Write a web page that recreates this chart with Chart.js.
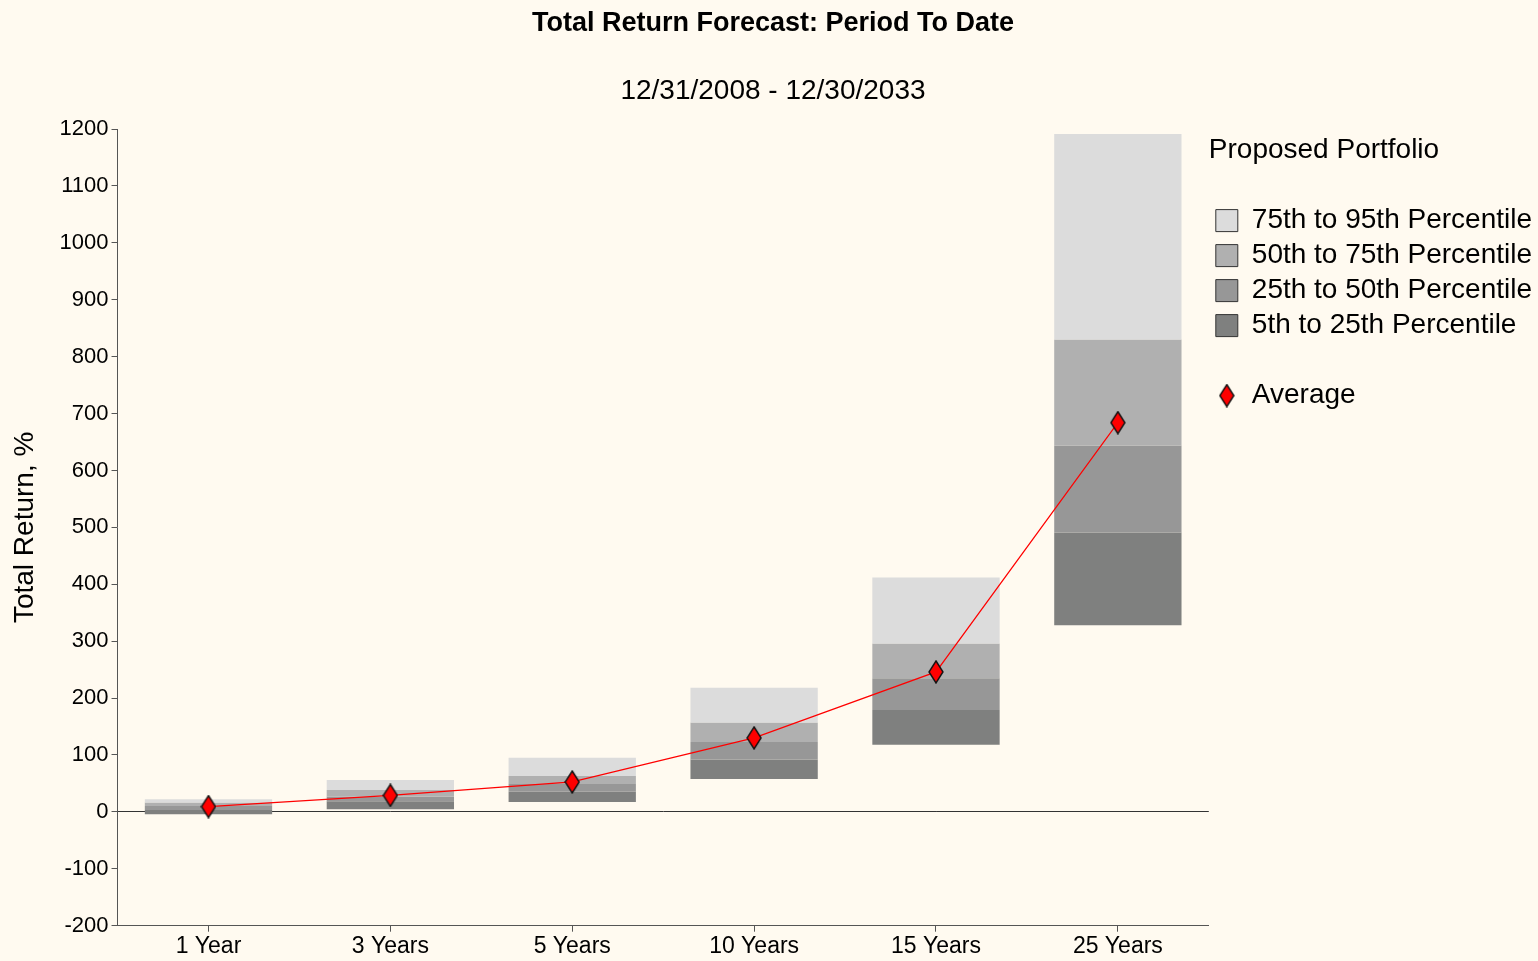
<!DOCTYPE html>
<html>
<head>
<meta charset="utf-8">
<script src="https://cdn.jsdelivr.net/npm/chart.js@4.4.1/dist/chart.umd.min.js"></script>
<style>
  html,body{margin:0;padding:0;background:#fffaf0;}
  #wrap{width:1538px;height:961px;}
</style>
</head>
<body>
<div id="wrap"><canvas id="c" width="1538" height="961"></canvas></div>
<script>
const labels = ["1 Year","3 Years","5 Years","10 Years","15 Years","25 Years"];
const p5  = [-4, 4.7, 17.5, 58, 118, 328];
const p25 = [3.5, 18.8, 35.6, 92, 179, 491];
const p50 = [10.5, 27, 49, 123, 235, 644];
const p75 = [16.3, 38.6, 63, 157, 296, 830];
const p95 = [22.3, 56, 95, 218, 412, 1191];
const avg = [9.3, 29, 52.6, 130, 246, 684];

const FONT = "'Liberation Sans', Arial, sans-serif";
const $ = s => document.querySelector(s);

// tall red diamond used for the average markers
function diamond(w,h){
  const cv=document.createElement("canvas");
  cv.width=w; cv.height=h;
  const g=cv.getContext("2d");
  g.beginPath();
  g.moveTo(w/2,1); g.lineTo(w-1,h/2); g.lineTo(w/2,h-1); g.lineTo(1,h/2); g.closePath();
  g.fillStyle="#ff0000"; g.fill();
  g.lineWidth=1.4; g.strokeStyle="#111"; g.stroke();
  return cv;
}
const dia = diamond(16,24);

const band = (lo,hi) => lo.map((v,i)=>[v,hi[i]]);
const bar = (label,data,color)=>({
  type:"bar", label, data, backgroundColor:color, borderWidth:0,
  grouped:false, barPercentage:0.7, categoryPercentage:1, order:1
});

const bgPlugin = {
  id:"bg",
  beforeInit(c){
    // legend sits a bit tighter against the plot than chart.js would put it
    const lg=c.legend;
    if(lg){ const fit=lg.fit; lg.fit=function(){ fit.call(this); this.width-=4; }; }
  },
  beforeDraw(c){
    const g=c.ctx; g.save(); g.fillStyle="#fffaf0"; g.fillRect(0,0,c.width,c.height); g.restore();
  }
};

new Chart($("#c").getContext("2d"),{
  data:{
    labels,
    datasets:[
      {type:"line", label:"Average", data:avg, borderColor:"#ff0000", borderWidth:1.2,
       pointStyle:dia, pointRadius:8, pointHoverRadius:8, tension:0, order:0},
      bar("75th to 95th Percentile", band(p75,p95), "#dcdcdc"),
      bar("50th to 75th Percentile", band(p50,p75), "#b0b0b0"),
      bar("25th to 50th Percentile", band(p25,p50), "#979797"),
      bar("5th to 25th Percentile",  band(p5,p25),  "#7f807f")
    ]
  },
  options:{
    responsive:false, animation:false,
    layout:{padding:{left:8,right:0,top:0,bottom:0}},
    scales:{
      x:{
        offset:true,
        grid:{display:true, drawOnChartArea:false, offset:false, tickLength:6, tickColor:"#555"},
        border:{color:"#555", width:1},
        ticks:{color:"#000", padding:2, font:{family:FONT,size:23,lineHeight:1.1}}
      },
      y:{
        min:-200, max:1200,
        grid:{
          drawOnChartArea:true, tickLength:6, tickColor:"#555",
          color:ctx=> ctx.tick && ctx.tick.value===0 ? "#333" : "rgba(0,0,0,0)",
          lineWidth:1
        },
        border:{color:"#555", width:1},
        ticks:{stepSize:100, color:"#000", padding:3, font:{family:FONT,size:22},
               callback:v=>String(v)},
        title:{display:true, text:"Total Return, %", color:"#000",
               font:{family:FONT,size:28}, padding:{top:0,bottom:15}}
      }
    },
    plugins:{
      title:{display:true, text:"Total Return Forecast: Period To Date", color:"#000",
             font:{family:FONT,size:27,weight:"bold"}, padding:{top:7,bottom:0}},
      subtitle:{display:true, text:"12/31/2008 - 12/30/2033", color:"#000",
                font:{family:FONT,size:28}, padding:{top:35,bottom:21}},
      legend:{
        position:"right", align:"start",
        title:{display:true, text:"Proposed Portfolio", color:"#000", position:"start",
               font:{family:FONT,size:28}, padding:{top:136,bottom:30}},
        labels:{
          color:"#000", font:{family:FONT,size:28}, padding:7,
          boxWidth:22, boxHeight:22, usePointStyle:true,
          generateLabels(chart){
            const items = chart.data.datasets.map((ds,i)=>({
              text:ds.label, datasetIndex:i, hidden:!chart.isDatasetVisible(i),
              fillStyle: ds.type==="line" ? "#ff0000" : ds.backgroundColor,
              strokeStyle:"#333", lineWidth:1,
              pointStyle: ds.type==="line" ? dia : "rect", fontColor:"#000"
            }));
            const bars = items.filter(it=>it.pointStyle==="rect");
            const line = items.filter(it=>it.pointStyle!=="rect");
            const gap = {text:"", datasetIndex:-1, hidden:false, fillStyle:"rgba(0,0,0,0)",
                         strokeStyle:"rgba(0,0,0,0)", lineWidth:0, pointStyle:"rect", fontColor:"#000"};
            return [...bars, gap, ...line];
          }
        },
        onClick(e,item,legend){
          if(item.datasetIndex<0) return;
          Chart.defaults.plugins.legend.onClick.call(this,e,item,legend);
        }
      },
      tooltip:{enabled:true}
    }
  },
  plugins:[bgPlugin]
});
</script>
</body>
</html>
